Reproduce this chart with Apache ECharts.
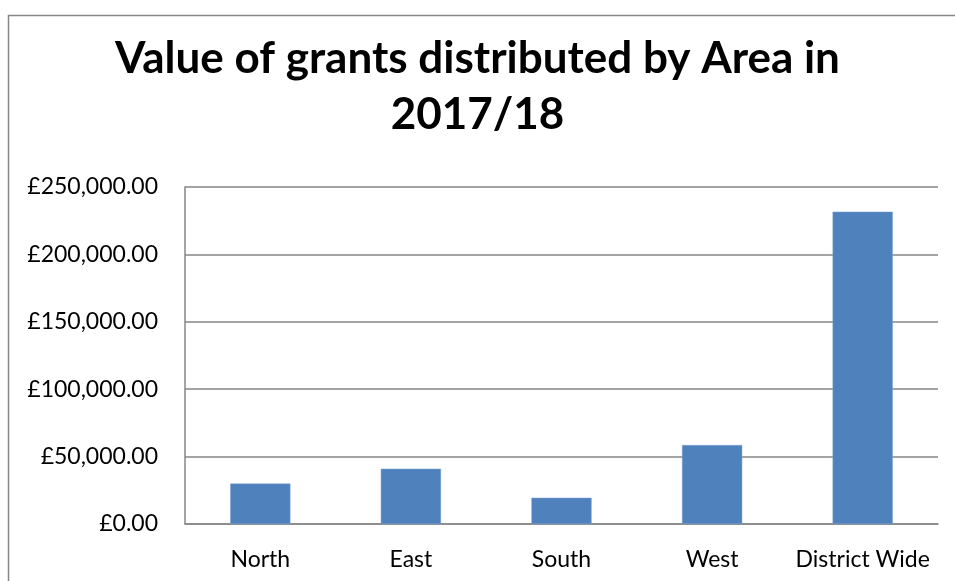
<!DOCTYPE html>
<html>
<head>
<meta charset="utf-8">
<script src="https://cdn.jsdelivr.net/npm/echarts@6/dist/echarts.min.js"></script>
<style>html,body{margin:0;padding:0;background:#fff;}#c{width:955px;height:581px;}</style>
</head>
<body>
<div id="c"></div>
<script>
const categories = ['North', 'East', 'South', 'West', 'District Wide'];
const values = [30000, 41000, 19500, 58600, 231700];
const titleText = 'Value of grants distributed by Area in\n2017/18';

const chart = echarts.init(document.getElementById('c'));
chart.setOption({
  animation: false,
  backgroundColor: '#fff',
  title: {
    text: titleText,
    left: 'center',
    top: 26,
    textStyle: { fontFamily: 'Lato', fontWeight: 'bold', fontSize: 44, lineHeight: 56, color: '#000' }
  },
  graphic: [{
    type: 'rect',
    shape: { x: 8.5, y: 15.5, width: 1000, height: 700 },
    style: { fill: 'none', stroke: '#868686', lineWidth: 1.5 },
    silent: true
  }],
  grid: { left: 185, right: 17, top: 187, bottom: 57 },
  xAxis: {
    type: 'category',
    data: categories,
    axisTick: { show: false },
    axisLine: { lineStyle: { color: '#868686', width: 1.5 } },
    axisLabel: { interval: 0, fontFamily: 'Lato', fontSize: 23, color: '#000', margin: 24 }
  },
  yAxis: {
    type: 'value',
    min: 0, max: 250000, interval: 50000,
    axisLine: { show: true, lineStyle: { color: '#868686', width: 1.5 } },
    axisTick: { show: false },
    splitLine: { lineStyle: { color: '#868686', width: 1.5 } },
    axisLabel: {
      fontFamily: 'Lato', fontSize: 23, color: '#000', margin: 27,
      formatter: v => '£' + v.toLocaleString('en-GB', { minimumFractionDigits: 2, maximumFractionDigits: 2 })
    }
  },
  series: [{
    type: 'bar',
    data: values,
    barWidth: '40%',
    itemStyle: { color: '#4F81BD', borderColor: '#7FA6D6', borderWidth: 0.5 }
  }]
});
</script>
</body>
</html>
